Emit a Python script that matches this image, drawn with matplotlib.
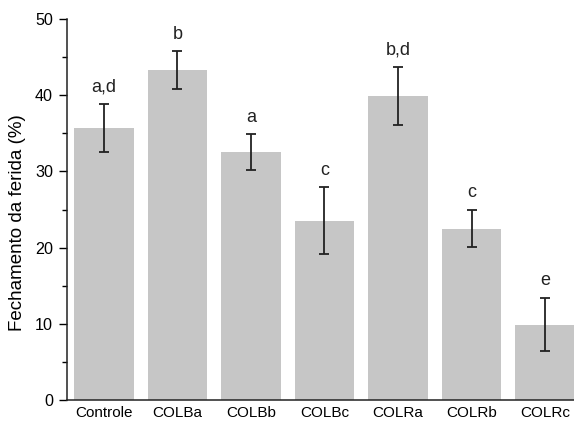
import numpy as np
import matplotlib
matplotlib.use('Agg')
import matplotlib.pyplot as plt
from matplotlib.ticker import MultipleLocator

plt.rcParams['font.family'] = ['Liberation Sans', 'DejaVu Sans']

grupos = ['Controle', 'COLBa', 'COLBb', 'COLBc', 'COLRa', 'COLRb', 'COLRc']
media = [35.7, 43.3, 32.5, 23.5, 39.9, 22.5, 9.9]
erro = [3.1, 2.45, 2.35, 4.4, 3.85, 2.45, 3.5]
letras = ['a,d', 'b', 'a', 'c', 'b,d', 'c', 'e']

fig = plt.figure(figsize=(5.74, 4.22), dpi=100)
ax = fig.add_axes([0.1167, 0.0521, 0.897, 0.9028])

x = np.arange(len(grupos))
ax.bar(x, media, width=0.81, color='#c6c6c6', edgecolor='none',
       yerr=erro, capsize=3.3,
       error_kw=dict(ecolor='#222222', elinewidth=1.3, capthick=1.3))

# letras de significancia acima das barras de erro
for xi, m, e, l in zip(x, media, erro, letras):
    ax.annotate(l, (xi, m + e), xytext=(0, 9), textcoords='offset points',
                ha='center', va='baseline', fontsize=13, color='#222222')

ax.set_xlim(-0.5, 6.5)
ax.set_ylim(0, 50)
ax.set_xticks(x)
ax.set_xticklabels(grupos, fontsize=11)
ax.yaxis.set_major_locator(MultipleLocator(10))
ax.yaxis.set_minor_locator(MultipleLocator(5))
ax.tick_params(axis='y', which='major', length=6, width=1, labelsize=11.6, pad=4)
ax.tick_params(axis='y', which='minor', length=3.5, width=1)
ax.tick_params(axis='x', length=0, pad=4.5)
ax.set_ylabel('Fechamento da ferida (%)', fontsize=13.5)
ax.yaxis.set_label_coords(-0.08, 0.466)

for s in ['top', 'right']:
    ax.spines[s].set_visible(False)
for s in ['left', 'bottom']:
    ax.spines[s].set_linewidth(1.1)
    ax.spines[s].set_color('#222222')

fig.savefig('out.png', dpi=100)
